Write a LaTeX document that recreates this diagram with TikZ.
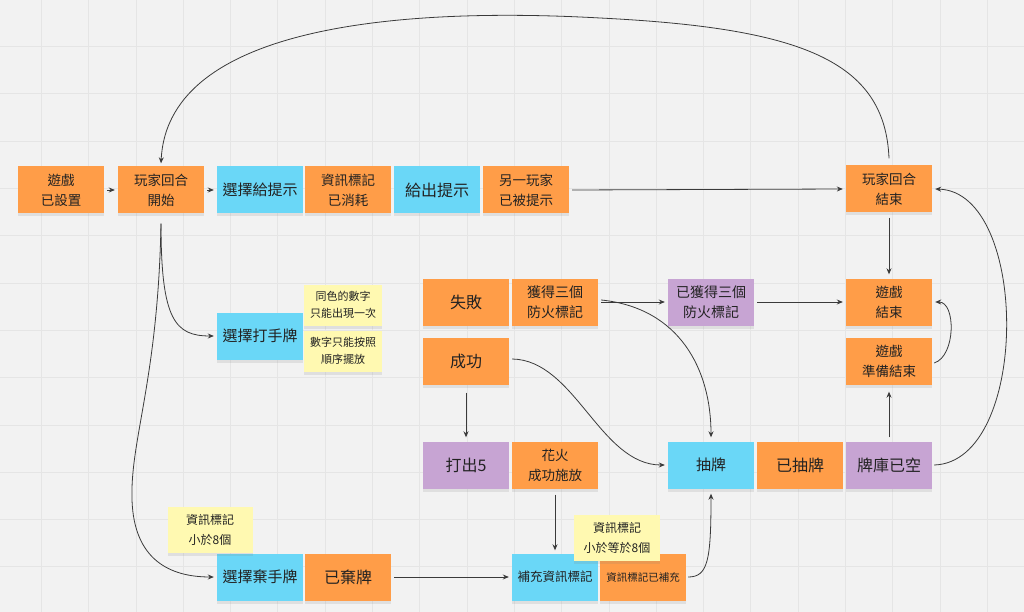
\documentclass[tikz,border=0pt]{standalone}
\usepackage{fontspec}
\newfontfamily\cjk{Noto Sans CJK TC}
\usetikzlibrary{arrows.meta,shadows}
\definecolor{bg}{HTML}{F2F2F2}
\definecolor{gridc}{HTML}{E5E5E5}
\definecolor{orng}{HTML}{FF9D48}
\definecolor{blu}{HTML}{6AD7F7}
\definecolor{purp}{HTML}{C7A4D3}
\definecolor{yel}{HTML}{FFF9B1}
\definecolor{ink}{HTML}{222222}
\definecolor{wire}{HTML}{3A3A3A}
\begin{document}
\begin{tikzpicture}[x=1pt,y=-1pt,
  sticky/.style={rectangle, minimum width=86pt, minimum height=47pt, inner sep=1pt,
    align=center, text=ink, font=\cjk\fontsize{13.5}{20}\selectfont,
    drop shadow={shadow xshift=0pt, shadow yshift=-3pt, opacity=0.16}},
  org/.style={sticky, fill=orng},
  blue/.style={sticky, fill=blu},
  purple/.style={sticky, fill=purp},
  note/.style={sticky, fill=yel, minimum width=78pt, minimum height=41pt, font=\cjk\fontsize{11}{17}\selectfont},
  big/.style={font=\cjk\fontsize{16}{20}\selectfont},
  conn/.style={draw=wire, line width=0.8pt, -{Stealth[length=6pt,width=5pt]}},
  plain/.style={draw=wire, line width=0.8pt}
]
\useasboundingbox (0,0) rectangle (1024,612);
\fill[bg] (0,0) rectangle (1024,612);
\foreach \i in {0,...,21} \draw[gridc, line width=0.8pt] ({41.3+47.3*\i},0) -- ({41.3+47.3*\i},612);
\foreach \j in {0,...,11} \draw[gridc, line width=0.8pt] (0,{46.5+47.3*\j}) -- (1024,{46.5+47.3*\j});

% top row
\node[org] (setup) at (61,190) {遊戲\\已設置};
\node[org] (tstart) at (161,190) {玩家回合\\開始};
\node[blue, big, font=\cjk\fontsize{15}{20}\selectfont] (hint) at (260,190) {選擇給提示};
\node[org] (used) at (348,190) {資訊標記\\已消耗};
\node[blue, big] (give) at (437,190) {給出提示};
\node[org] (hinted) at (526,190) {另一玩家\\已被提示};
\node[org] (tend) at (889,189) {玩家回合\\結束};

% middle
\node[blue, font=\cjk\fontsize{15}{20}\selectfont] (play) at (260,336) {選擇打手牌};
\node[org, big] (fail) at (466,302) {失敗};
\node[org, font=\cjk\fontsize{14}{20}\selectfont] (get3) at (555,302) {獲得三個\\防火標記};
\node[purple, font=\cjk\fontsize{14}{20}\selectfont] (got3) at (711,302) {已獲得三個\\防火標記};
\node[org] (gend) at (889,302) {遊戲\\結束};
\node[org, big] (succ) at (466,361) {成功};
\node[org] (gready) at (889,361) {遊戲\\準備結束};

\node[purple, big] (five) at (466,465) {打出5};
\node[org] (fire) at (555,465) {花火\\成功施放};
\node[blue, font=\cjk\fontsize{15}{20}\selectfont] (draw) at (711,465) {抽牌};
\node[org, big] (drawn) at (800,465) {已抽牌};
\node[purple, big] (empty) at (889,465) {牌庫已空};

% bottom
\node[blue, font=\cjk\fontsize{15}{20}\selectfont] (disc) at (260,577) {選擇棄手牌};
\node[org, big] (discd) at (348,577) {已棄牌};
\node[blue, font=\cjk\fontsize{12.5}{20}\selectfont] (refill) at (555,577) {補充資訊標記};
\node[org, font=\cjk\fontsize{10.5}{20}\selectfont] (refilled) at (643,577) {資訊標記已補充};

% notes
\node[note] (n1) at (343,305) {同色的數字\\只能出現一次};
\node[note] (n2) at (343,351) {數字只能按照\\順序擺放};
\node[note, minimum width=85pt, minimum height=46pt, font=\cjk\fontsize{12}{20}\selectfont] (n3) at (210,530) {資訊標記\\小於8個};
\node[note, minimum width=86pt, minimum height=46pt, font=\cjk\fontsize{12}{20}\selectfont] (n4) at (617,538) {資訊標記\\小於等於8個};

% connectors
\draw[conn] (setup.east) ++(3,0) coordinate (a1) (a1) -- ([xshift=-3pt]tstart.west);
\draw[conn] ([xshift=3pt]tstart.east) -- ([xshift=-3pt]hint.west);
\draw[conn] ([xshift=3pt]hinted.east) -- ([xshift=-3pt]tend.west);
\draw[conn] ([yshift=7pt]tend.north) .. controls (885,60) and (800,28) .. (600,18)
   .. controls (420,8) and (168,20) .. ([yshift=3pt]tstart.north);
\draw[conn] ([yshift=-10pt]tstart.south) .. controls (161,320) and (175,336) .. ([xshift=-3pt]play.west);
\draw[conn] ([yshift=-10pt]tstart.south) .. controls (158,380) and (130,440) .. (132,500)
   .. controls (134,560) and (170,577) .. ([xshift=-3pt]disc.west);
\draw[conn] ([yshift=-5pt]tend.south) -- ([yshift=4pt]gend.north);
\draw[conn] ([xshift=3pt]get3.east) -- ([xshift=-3pt]got3.west);
\draw[conn] ([xshift=3pt]got3.east) -- ([xshift=-3pt]gend.west);
\draw[conn] ([xshift=3pt,yshift=2pt]get3.east) .. controls (680,308) and (711,370) .. ([yshift=4pt]draw.north);
\draw[conn] ([xshift=3pt,yshift=2pt]succ.east) .. controls (575,360) and (600,465) .. ([xshift=-3pt]draw.west);
\draw[conn] ([yshift=-8pt]succ.south) -- ([yshift=4pt]five.north);
\draw[conn] ([yshift=-6pt]fire.south) -- ([yshift=3pt]refill.north);
\draw[conn] ([xshift=3pt]discd.east) -- ([xshift=-3pt]refill.west);
\draw[conn] ([xshift=2pt]refilled.east) .. controls (708,577) and (711,560) .. ([yshift=-5pt]draw.south);
\draw[conn] ([yshift=4pt]empty.north) -- ([yshift=-7pt]gready.south);
\draw[conn] ([xshift=2pt,yshift=-2pt]gready.east) .. controls (956,356) and (956,302) .. ([xshift=3pt]gend.east);
\draw[conn] ([xshift=2pt]empty.east) .. controls (1030,462) and (1030,192) .. ([xshift=3pt]tend.east);
\end{tikzpicture}
\end{document}
